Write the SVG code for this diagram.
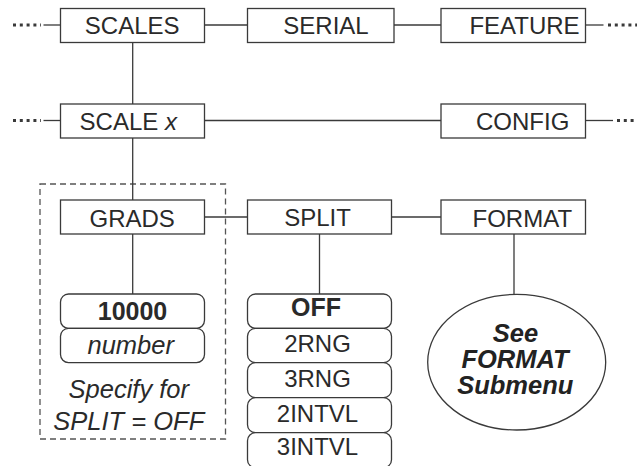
<svg xmlns="http://www.w3.org/2000/svg" width="637" height="466" viewBox="0 0 637 466">
  <style>
    .box { fill: #fff; stroke: #3a3a3a; stroke-width: 1.3; }
    .opt { fill: #fff; stroke: #3a3a3a; stroke-width: 1.3; }
    .line { fill: none; stroke: #3a3a3a; stroke-width: 1.3; }
    .dots { fill: none; stroke: #3a3a3a; stroke-width: 3; stroke-dasharray: 3 3.8; }
    .frame { fill: none; stroke: #555; stroke-width: 1.3; stroke-dasharray: 6 4; }
    .lbl { font-family: "Liberation Sans", Arial, sans-serif; font-size: 24px; fill: #2a2a2a; text-anchor: middle; }
    .bold { font-weight: bold; font-size: 25px; }
    .ital { font-style: italic; }
    .note { font-family: "Liberation Sans", Arial, sans-serif; font-size: 25.5px; font-style: italic; font-weight: bold; fill: #222; text-anchor: middle; }
  </style>

  <!-- dashed frame around the GRADS branch -->
  <rect class="frame" x="40" y="184" width="185.5" height="255"/>

  <g id="connectors">
    <!-- continuation dots -->
    <line class="dots" x1="13" y1="25" x2="41" y2="25"/>
    <line class="dots" x1="13" y1="120.5" x2="41" y2="120.5"/>
    <line class="dots" x1="608" y1="25" x2="637" y2="25"/>
    <line class="dots" x1="617" y1="120.5" x2="637" y2="120.5"/>
    <!-- row 1 -->
    <line class="line" x1="43.5" y1="25" x2="60.5" y2="25"/>
    <line class="line" x1="204.5" y1="25" x2="247.5" y2="25"/>
    <line class="line" x1="394" y1="25" x2="441" y2="25"/>
    <line class="line" x1="585.5" y1="25" x2="603.5" y2="25"/>
    <!-- row 2 -->
    <line class="line" x1="43.5" y1="120.5" x2="60.5" y2="120.5"/>
    <line class="line" x1="204.5" y1="120.5" x2="441" y2="120.5"/>
    <line class="line" x1="585.5" y1="120.5" x2="613" y2="120.5"/>
    <!-- verticals -->
    <line class="line" x1="132.7" y1="42.5" x2="132.7" y2="104"/>
    <line class="line" x1="132.7" y1="138" x2="132.7" y2="200"/>
    <line class="line" x1="132.7" y1="234" x2="132.7" y2="294"/>
    <line class="line" x1="319.5" y1="234" x2="319.5" y2="294"/>
    <line class="line" x1="514" y1="234" x2="514" y2="294.5"/>
    <!-- row 3 -->
    <line class="line" x1="204.5" y1="217" x2="247.5" y2="217"/>
    <line class="line" x1="391.5" y1="217" x2="441" y2="217"/>
  </g>

  <g id="scales">
    <rect class="box" x="60.5" y="8.5" width="144" height="34"/>
    <text class="lbl" x="132.2" y="34.3">SCALES</text>
  </g>
  <g id="serial">
    <rect class="box" x="247.5" y="8.5" width="146.5" height="34"/>
    <text class="lbl" x="326" y="33.8">SERIAL</text>
  </g>
  <g id="feature">
    <rect class="box" x="441" y="8.5" width="144.5" height="34"/>
    <text class="lbl" x="524.5" y="34">FEATURE</text>
  </g>

  <g id="scale-x">
    <rect class="box" x="60.5" y="104" width="144" height="34"/>
    <text class="lbl" x="128.3" y="129.5">SCALE <tspan class="ital">x</tspan></text>
  </g>
  <g id="config">
    <rect class="box" x="441" y="104" width="144.5" height="34"/>
    <text class="lbl" x="522.7" y="130">CONFIG</text>
  </g>

  <g id="grads">
    <rect class="box" x="60.5" y="200" width="144" height="34"/>
    <text class="lbl" x="132.2" y="226.5">GRADS</text>
  </g>
  <g id="split">
    <rect class="box" x="247.5" y="200" width="144" height="34"/>
    <text class="lbl" x="317.5" y="226">SPLIT</text>
  </g>
  <g id="format">
    <rect class="box" x="441" y="200" width="144.5" height="34"/>
    <text class="lbl" x="522.3" y="226.5">FORMAT</text>
  </g>

  <g id="grads-values">
    <rect class="opt" x="60.5" y="294" width="144" height="34.3" rx="8"/>
    <text class="lbl bold" x="132.5" y="320">10000</text>
    <rect class="opt" x="60.5" y="328.3" width="144" height="34.3" rx="8"/>
    <text class="lbl ital" x="130.7" y="354.3" style="font-size:25.5px">number</text>
    <text class="lbl ital" x="128.8" y="398.3" style="font-size:25.5px">Specify for</text>
    <text class="lbl ital" x="128.8" y="430" style="font-size:25.5px">SPLIT = OFF</text>
  </g>

  <g id="split-values">
    <rect class="opt" x="247.5" y="294" width="144" height="34.3" rx="8"/>
    <text class="lbl bold" x="316" y="315.5">OFF</text>
    <rect class="opt" x="247.5" y="328.3" width="144" height="34.4" rx="8"/>
    <text class="lbl" x="317.5" y="351.7">2RNG</text>
    <rect class="opt" x="247.5" y="362.7" width="144" height="35" rx="8"/>
    <text class="lbl" x="317.5" y="386.7">3RNG</text>
    <rect class="opt" x="247.5" y="397.7" width="144" height="35" rx="8"/>
    <text class="lbl" x="317.5" y="421.7">2INTVL</text>
    <rect class="opt" x="247.5" y="432.7" width="144" height="35" rx="8"/>
    <text class="lbl" x="317.5" y="455">3INTVL</text>
  </g>

  <g id="format-submenu">
    <ellipse class="opt" cx="516.7" cy="362.2" rx="89" ry="67.8"/>
    <text class="note" x="515.5" y="341.7">See</text>
    <text class="note" x="515" y="368">FORMAT</text>
    <text class="note" x="515.3" y="394">Submenu</text>
  </g>
</svg>
